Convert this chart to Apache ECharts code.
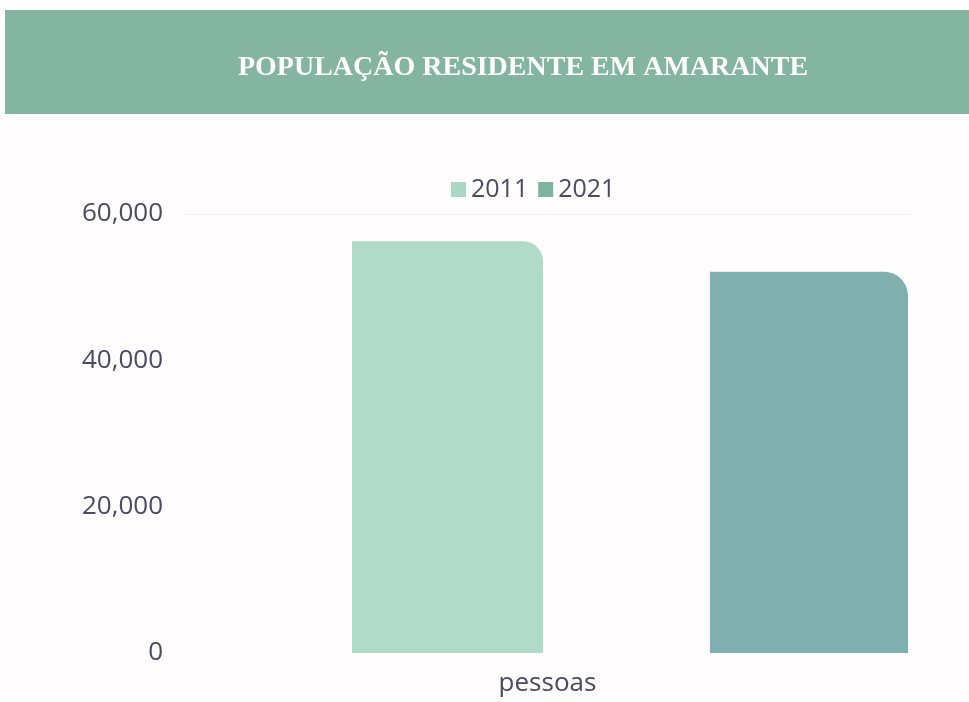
<!DOCTYPE html>
<html>
<head>
<meta charset="utf-8">
<script src="https://cdn.jsdelivr.net/npm/echarts@6/dist/echarts.min.js"></script>
<style>
html,body{margin:0;padding:0;background:#fffdfd;}
#chart{width:969px;height:702px;}
</style>
</head>
<body>
<div id="chart"></div>
<script>
const titleText = 'POPULAÇÃO RESIDENTE EM AMARANTE';
const categories = ['pessoas'];
const seriesNames = ['2011', '2021'];
const values2011 = [56264];
const values2021 = [52116];
const yMin = 0, yMax = 60000, yInterval = 20000;

const textColor = '#4a4a60';
const font = 'Open Sans';

const chart = echarts.init(document.getElementById('chart'));
chart.setOption({
  backgroundColor: '#fffdfd',
  animation: false,
  graphic: [
    { type: 'rect', shape: { x: 5, y: 10, width: 964, height: 104 }, style: { fill: '#83b5a0' }, z: 0 },
    { type: 'text', x: 523, y: 68, style: { text: titleText, fill: '#ffffff', font: 'bold 28px "Liberation Serif", serif', textAlign: 'center', textVerticalAlign: 'middle' }, z: 1 }
  ],
  legend: {
    left: 446, top: 172,
    itemWidth: 15, itemHeight: 15, itemGap: 10,
    icon: 'rect',
    textStyle: { color: textColor, fontSize: 25, fontFamily: font },
    data: [
      { name: seriesNames[0], itemStyle: { color: '#a9d8c4' } },
      { name: seriesNames[1], itemStyle: { color: '#7db49e' } }
    ]
  },
  grid: [
    { left: 185, right: 59, top: 214, bottom: 49 },
    { left: 352, right: 61, top: 214, bottom: 49 }
  ],
  xAxis: [
    { gridIndex: 0, type: 'category', data: categories,
      axisLine: { show: false }, axisTick: { show: false },
      axisLabel: { color: textColor, fontSize: 26, fontFamily: font, margin: 18 } },
    { gridIndex: 1, type: 'category', data: categories, show: false }
  ],
  yAxis: [
    { gridIndex: 0, type: 'value', min: yMin, max: yMax, interval: yInterval,
      axisLine: { show: false }, axisTick: { show: false },
      axisLabel: { color: textColor, fontSize: 26, fontFamily: font, margin: 22,
        formatter: v => v.toLocaleString('en-US') },
      splitLine: { show: true, lineStyle: { color: ['rgba(0,0,0,0)', 'rgba(0,0,0,0)', 'rgba(0,0,0,0)', '#f5ecec'], width: 1 } } },
    { gridIndex: 1, type: 'value', min: yMin, max: yMax, show: false, splitLine: { show: false } }
  ],
  series: [
    { name: seriesNames[0], type: 'bar', xAxisIndex: 1, yAxisIndex: 1, data: values2011,
      barWidth: 191, barGap: '87.4%',
      itemStyle: { color: '#b0dbc8', borderRadius: [0, 20, 0, 0] } },
    { name: seriesNames[1], type: 'bar', xAxisIndex: 1, yAxisIndex: 1, data: values2021,
      barWidth: 198, barGap: '87.4%',
      itemStyle: { color: '#7fafae', borderRadius: [0, 24, 0, 0] } }
  ]
});
</script>
</body>
</html>
